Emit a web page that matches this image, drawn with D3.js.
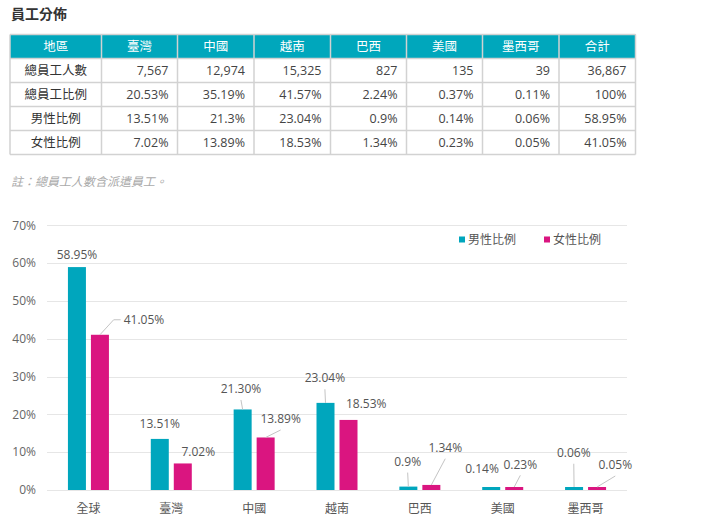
<!DOCTYPE html>
<html>
<head>
<meta charset="utf-8">
<script src="https://cdn.jsdelivr.net/npm/d3@7"></script>
<style>
    body { margin: 0; background: #fff; }
    svg { display: block; font-family: "Segoe UI", "Open Sans", "Noto Sans CJK TC", sans-serif; }
</style>
</head>
<body>
<div id="chart"></div>
<script>

// table data
const tableHeader = ['地區', '臺灣', '中國', '越南', '巴西', '美國', '墨西哥', '合計'];
const rowNames = ['總員工人數', '總員工比例', '男性比例', '女性比例'];
const headcount = [7567, 12974, 15325, 827, 135, 39, 36867];
const totalShare = [20.53, 35.19, 41.57, 2.24, 0.37, 0.11, 100];
const maleRow = [13.51, 21.3, 23.04, 0.9, 0.14, 0.06, 58.95];
const femaleRow = [7.02, 13.89, 18.53, 1.34, 0.23, 0.05, 41.05];

// chart data
const categories = ['全球', '臺灣', '中國', '越南', '巴西', '美國', '墨西哥'];
const seriesNames = ['男性比例', '女性比例'];
const maleShare = [58.95, 13.51, 21.30, 23.04, 0.9, 0.14, 0.06];
const femaleShare = [41.05, 7.02, 13.89, 18.53, 1.34, 0.23, 0.05];
const maleLabels = ['58.95%', '13.51%', '21.30%', '23.04%', '0.9%', '0.14%', '0.06%'];
const femaleLabels = ['41.05%', '7.02%', '13.89%', '18.53%', '1.34%', '0.23%', '0.05%'];
const yTicks = [0, 10, 20, 30, 40, 50, 60, 70];

const colors = ['#00a6bd', '#da1580'];

// label layout tweaks: [dx, dy, leader] from the bar top (0 none, 1 straight, 2 elbow)
const labelNudge = [
    [[0, -12, 0], [0, -15, 0], [-1.7, -20.5, 1], [-0.6, -24.6, 1], [-0.7, -25, 1], [-9.2, -20.5, 0], [-0.3, -37, 1]],
    [[44, -15, 2], [15.5, -12, 0], [15, -18.5, 1], [17.7, -16.6, 0], [13.9, -37.2, 1], [6.1, -24.8, 1], [18.2, -24.8, 1]]
];

const svg = d3.select('#chart').append('svg')
    .attr('width', 717)
    .attr('height', 527);

const pct = v => v + '%';

/**
 * title, table and footnote
 */
function drawTable() {
    svg.append('text')
        .attr('x', 11).attr('y', 14)
        .attr('dy', '0.35em')
        .attr('font-size', 14).attr('font-weight', 'bold')
        .attr('fill', '#333')
        .text('員工分佈');

    const colX = d3.scaleOrdinal()
        .domain(d3.range(8))
        .range([10, 101.5, 177.5, 254, 330.5, 406.5, 482.5, 559, 635.5]);
    const edges = [10, 101.5, 177.5, 254, 330.5, 406.5, 482.5, 559, 635.5];
    const rowY = d3.scaleLinear().domain([0, 5]).range([34.5, 154.5]);

    const rows = [
        headcount.map(d3.format(',')),
        totalShare.map(pct),
        maleRow.map(pct),
        femaleRow.map(pct)
    ];

    const g = svg.append('g');

    g.append('rect')
        .attr('x', edges[0]).attr('y', rowY(0))
        .attr('width', edges[8] - edges[0]).attr('height', rowY(1) - rowY(0))
        .attr('fill', '#00a7bc');

    // header
    g.selectAll('.head').data(tableHeader).join('text')
        .attr('x', (d, i) => (edges[i] + edges[i + 1]) / 2)
        .attr('y', (rowY(0) + rowY(1)) / 2)
        .attr('dy', '0.35em')
        .attr('text-anchor', 'middle')
        .attr('font-size', 12.5)
        .attr('fill', '#fff')
        .text(d => d);

    // body
    rows.forEach((row, r) => {
        const cy = (rowY(r + 1) + rowY(r + 2)) / 2;
        g.append('text')
            .attr('x', (edges[0] + edges[1]) / 2).attr('y', cy)
            .attr('dy', '0.35em')
            .attr('text-anchor', 'middle')
            .attr('font-size', 12.5).attr('fill', '#333')
            .text(rowNames[r]);
        g.selectAll('.r' + r).data(row).join('text')
            .attr('x', (d, i) => edges[i + 2] - 9)
            .attr('y', cy)
            .attr('dy', '0.35em')
            .attr('text-anchor', 'end')
            .attr('font-size', 12.5).attr('fill', '#444')
            .text(d => d);
    });

    // grid lines
    const line = '#d2d2d2';
    g.selectAll('.hl').data(d3.range(1, 6)).join('line')
        .attr('x1', edges[0]).attr('x2', edges[8])
        .attr('y1', d => rowY(d)).attr('y2', d => rowY(d))
        .attr('stroke', line).attr('stroke-width', 1.5);
    g.selectAll('.vl').data(edges).join('line')
        .attr('x1', d => d).attr('x2', d => d)
        .attr('y1', rowY(0)).attr('y2', rowY(5))
        .attr('stroke', line).attr('stroke-width', 1.5);
    g.append('line')
        .attr('x1', edges[0]).attr('x2', edges[8])
        .attr('y1', rowY(0)).attr('y2', rowY(0))
        .attr('stroke', line).attr('stroke-width', 1.5);

    svg.append('text')
        .attr('x', 11).attr('y', 182)
        .attr('dy', '0.35em')
        .attr('font-size', 12).attr('font-style', 'italic')
        .attr('fill', '#aaa')
        .text('註：總員工人數含派遣員工。');
}

/**
 * grouped bar chart
 */
function drawChart() {
    const x0 = d3.scaleBand().domain(categories).range([47, 627]);
    const x1 = d3.scaleBand().domain(seriesNames)
        .range([x0.bandwidth() / 2 - 20.5, x0.bandwidth() / 2 + 20.5])
        .paddingInner(5 / 23);
    const y = d3.scaleLinear().domain([0, 70]).range([490, 225.3]);

    // grid + y labels
    svg.append('g').selectAll('line').data(yTicks).join('line')
        .attr('x1', 47).attr('x2', 627)
        .attr('y1', d => Math.round(y(d)) + 0.5).attr('y2', d => Math.round(y(d)) + 0.5)
        .attr('stroke', '#e6e6e6');

    svg.append('g').selectAll('text').data(yTicks).join('text')
        .attr('x', 36).attr('y', d => y(d))
        .attr('dy', '0.35em')
        .attr('text-anchor', 'end')
        .attr('font-size', 12).attr('fill', '#666')
        .text(pct);

    svg.append('g').selectAll('text').data(categories).join('text')
        .attr('x', d => x0(d) + x0.bandwidth() / 2).attr('y', 509)
        .attr('dy', '0.35em')
        .attr('text-anchor', 'middle')
        .attr('font-size', 12).attr('fill', '#555')
        .text(d => d);

    const series = [maleShare, femaleShare];
    const labels = [maleLabels, femaleLabels];

    series.forEach((values, s) => {
        const g = svg.append('g');
        const cx = i => x0(categories[i]) + x1(seriesNames[s]) + x1.bandwidth() / 2;
        const top = v => Math.min(y(v), y(0) - 3);

        g.selectAll('rect').data(values).join('rect')
            .attr('x', (d, i) => x0(categories[i]) + x1(seriesNames[s]))
            .attr('y', d => top(d))
            .attr('width', x1.bandwidth())
            .attr('height', d => y(0) - top(d))
            .attr('fill', colors[s]);

        values.forEach((v, i) => {
            const [dx, dy, leader] = labelNudge[s][i];
            const lx = cx(i) + dx, ly = y(v) + dy;
            const t = g.append('text')
                .attr('x', lx).attr('y', ly)
                .attr('dy', '0.35em')
                .attr('text-anchor', 'middle')
                .attr('font-size', 12).attr('fill', '#555')
                .text(labels[s][i]);

            let pts = null;
            if (leader === 1) {
                pts = [[cx(i), top(v)], [lx, ly + 11]];
            } else if (leader === 2) {
                const left = lx - t.node().getComputedTextLength() / 2;
                pts = [[cx(i), top(v)], [left - 10, ly], [left - 3, ly]];
            }
            if (pts) {
                g.append('path')
                    .attr('d', d3.line()(pts))
                    .attr('fill', 'none')
                    .attr('stroke', '#c4c4c4');
            }
        });
    });

    // legend
    const legend = svg.append('g').selectAll('g').data(seriesNames).join('g')
        .attr('transform', (d, i) => `translate(${459 + i * 85},239.5)`);
    legend.append('rect')
        .attr('x', 0).attr('y', -3).attr('width', 6).attr('height', 6)
        .attr('fill', (d, i) => colors[i]);
    legend.append('text')
        .attr('x', 9).attr('dy', '0.35em')
        .attr('font-size', 12).attr('fill', '#555')
        .text(d => d);
}

drawTable();
drawChart();

</script>
</body>
</html>
